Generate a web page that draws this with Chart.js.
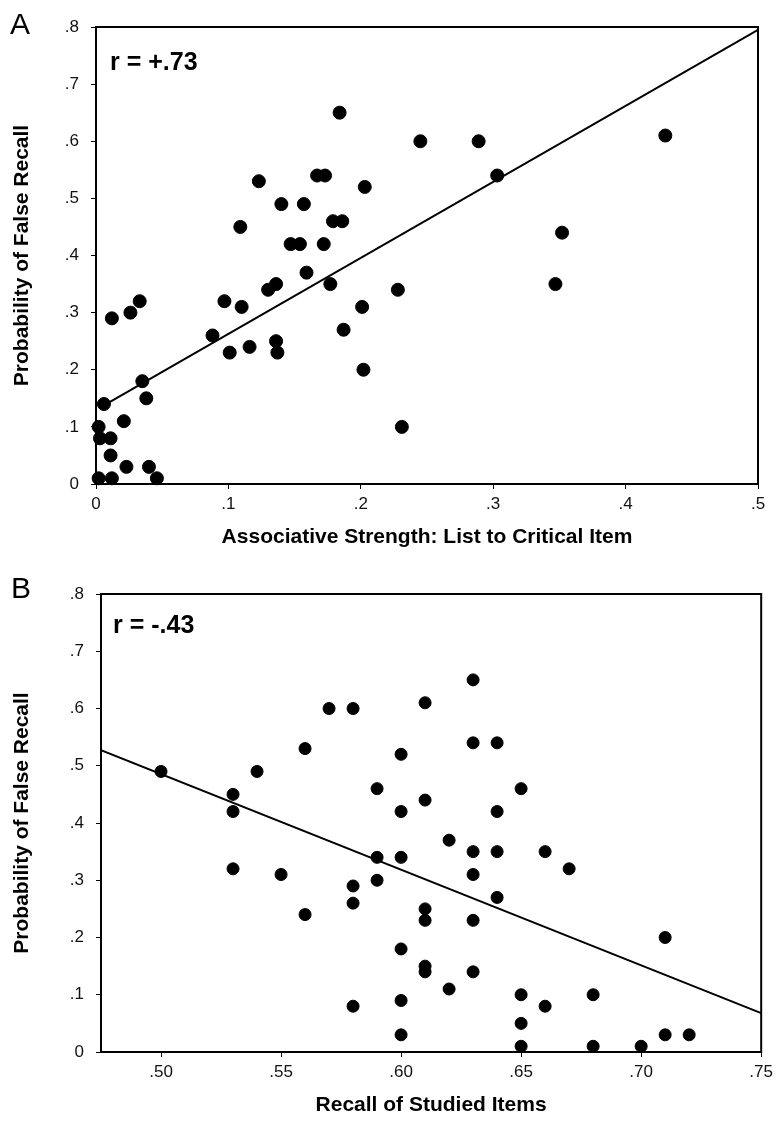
<!DOCTYPE html>
<html>
<head>
<meta charset="utf-8">
<script src="https://cdn.jsdelivr.net/npm/chart.js"></script>
<style>
  html, body { margin: 0; padding: 0; background: #fff; }
  body { width: 778px; height: 1123px; position: relative; overflow: hidden; }
  .panel { position: absolute; left: 0; width: 778px; }
  #panelA { top: 0; height: 550px; }
  #panelB { top: 567px; height: 556px; }
</style>
</head>
<body>
<div class="panel" id="panelA"><canvas id="chartA"></canvas></div>
<div class="panel" id="panelB"><canvas id="chartB"></canvas></div>
<script>
// Panel A: associative strength vs. false recall
const assocStrength = [.184, .245, .289, .430, .303, .123, .167, .173, .203, .140, .157, .109, .179, .186, .147, .154, .172, .352, .159, .177, .130, .136, .097, .110, .201, .228, .347, .187, .088, .101, .116, .136, .137, .202, .231, .012, .026, .033, .035, .038, .006, .021, .002, .003, .011, .011, .023, .040, .002, .012, .046];
const falseRecallA = [.65, .60, .60, .61, .54, .53, .54, .54, .52, .49, .49, .45, .46, .46, .42, .42, .42, .44, .37, .35, .34, .35, .32, .31, .31, .34, .35, .27, .26, .23, .24, .25, .23, .20, .10, .29, .30, .32, .18, .15, .14, .11, .10, .08, .08, .05, .03, .03, .01, .01, .01];
const fitAx = [.004, .5];
const fitAy = [.135, .795];

// Panel B: veridical recall vs. false recall
const recallStudied = [.50, .53, .53, .53, .54, .55, .56, .56, .57, .58, .58, .58, .58, .59, .59, .59, .60, .60, .60, .60, .60, .60, .61, .61, .61, .61, .61, .61, .62, .62, .63, .63, .63, .63, .63, .63, .64, .64, .64, .64, .65, .65, .65, .65, .66, .66, .67, .68, .68, .70, .71, .71, .72];
const falseRecallB = [.49, .45, .42, .32, .49, .31, .53, .24, .60, .60, .29, .26, .08, .46, .34, .30, .52, .42, .34, .18, .09, .03, .61, .44, .25, .23, .15, .14, .37, .11, .65, .54, .35, .31, .23, .14, .54, .42, .35, .27, .46, .10, .05, .01, .35, .08, .32, .10, .01, .01, .20, .03, .03];
const fitBx = [.475, .75];
const fitBy = [.527, .068];

const yTicks = [0, .1, .2, .3, .4, .5, .6, .7, .8];
const xTicksA = [0, .1, .2, .3, .4, .5];
const xTicksB = [.50, .55, .60, .65, .70, .75];

const FONT = "'Liberation Sans', Arial, Helvetica, sans-serif";

const toPoints = (xs, ys) => xs.map((x, i) => ({x: x, y: ys[i]}));
const dropZero = (v, d) => v === 0 ? '0' : v.toFixed(d).replace(/^0/, '');

// frame round the plot area and the panel texts
const framePlugin = {
  id: 'frame',
  afterDraw(chart, args, opts) {
    const {ctx, chartArea} = chart;
    ctx.save();
    ctx.strokeStyle = '#000';
    ctx.lineWidth = 2;
    ctx.strokeRect(chartArea.left, chartArea.top, chartArea.right - chartArea.left, chartArea.bottom - chartArea.top);
    ctx.fillStyle = '#000';
    ctx.textBaseline = 'alphabetic';
    ctx.textAlign = 'left';
    ctx.font = '30px ' + FONT;
    ctx.fillText(opts.letter, opts.letterX, opts.letterY);
    ctx.font = 'bold 25px ' + FONT;
    ctx.fillText(opts.rText, chartArea.left + opts.rDx, chartArea.top + opts.rDy);
    ctx.restore();
  }
};

function makeChart(id, cfg) {
  return new Chart(document.getElementById(id), {
    type: 'scatter',
    data: {
      datasets: [{
        data: toPoints(cfg.xs, cfg.ys),
        backgroundColor: '#000',
        borderColor: '#000',
        pointRadius: cfg.radius,
        pointHoverRadius: cfg.radius,
        clip: false
      }, {
        type: 'line',
        data: toPoints(cfg.fitX, cfg.fitY),
        borderColor: '#000',
        borderWidth: 2,
        pointRadius: 0,
        fill: false
      }]
    },
    options: {
      responsive: true,
      maintainAspectRatio: false,
      animation: false,
      events: [],
      layout: {padding: cfg.padding},
      plugins: {
        legend: {display: false},
        tooltip: {enabled: false},
        frame: cfg.frame
      },
      scales: {
        x: {
          type: 'linear',
          min: cfg.xMin,
          max: cfg.xMax,
          afterBuildTicks: (s) => { s.ticks = cfg.xTicks.map(v => ({value: v})); },
          afterFit: (s) => { s.height = cfg.xHeight; },
          ticks: {
            color: '#111',
            font: {family: FONT, size: 17},
            padding: 5,
            maxRotation: 0,
            autoSkip: false,
            callback: (v) => dropZero(v, cfg.xDigits)
          },
          grid: {drawOnChartArea: false, drawTicks: true, tickLength: 5, color: '#000', lineWidth: 1},
          border: {display: true, color: '#000', width: 2},
          title: {
            display: true,
            text: cfg.xTitle,
            color: '#000',
            font: {family: FONT, size: 21, weight: 'bold'},
            padding: {top: 0, bottom: cfg.xTitlePad}
          }
        },
        y: {
          type: 'linear',
          min: 0,
          max: .8,
          afterBuildTicks: (s) => { s.ticks = yTicks.map(v => ({value: v})); },
          afterFit: (s) => { s.width = cfg.yWidth; },
          ticks: {
            color: '#111',
            font: {family: FONT, size: 17},
            padding: 12,
            autoSkip: false,
            callback: (v) => dropZero(v, 1)
          },
          grid: {drawOnChartArea: false, drawTicks: true, tickLength: 5, color: '#000', lineWidth: 1},
          border: {display: true, color: '#000', width: 2},
          title: {
            display: true,
            text: 'Probability of False Recall',
            color: '#000',
            font: {family: FONT, size: 21, weight: 'bold'},
            padding: {top: 10, bottom: 0}
          }
        }
      }
    },
    plugins: [framePlugin]
  });
}

makeChart('chartA', {
  xs: assocStrength, ys: falseRecallA, fitX: fitAx, fitY: fitAy,
  radius: 6.5,
  xMin: 0, xMax: .5, xTicks: xTicksA, xDigits: 1,
  xTitle: 'Associative Strength: List to Critical Item',
  padding: {left: 0, top: 27, right: 20, bottom: 0},
  xHeight: 66, yWidth: 96, xTitlePad: 0,
  frame: {letter: 'A', letterX: 10, letterY: 34, rText: 'r = +.73', rDx: 14, rDy: 43}
});

makeChart('chartB', {
  xs: recallStudied, ys: falseRecallB, fitX: fitBx, fitY: fitBy,
  radius: 6,
  xMin: .475, xMax: .75, xTicks: xTicksB, xDigits: 2,
  xTitle: 'Recall of Studied Items',
  padding: {left: 0, top: 27, right: 13, bottom: 0},
  xHeight: 71, yWidth: 101, xTitlePad: 5,
  frame: {letter: 'B', letterX: 11, letterY: 31, rText: 'r = -.43', rDx: 12, rDy: 39}
});
</script>
</body>
</html>
